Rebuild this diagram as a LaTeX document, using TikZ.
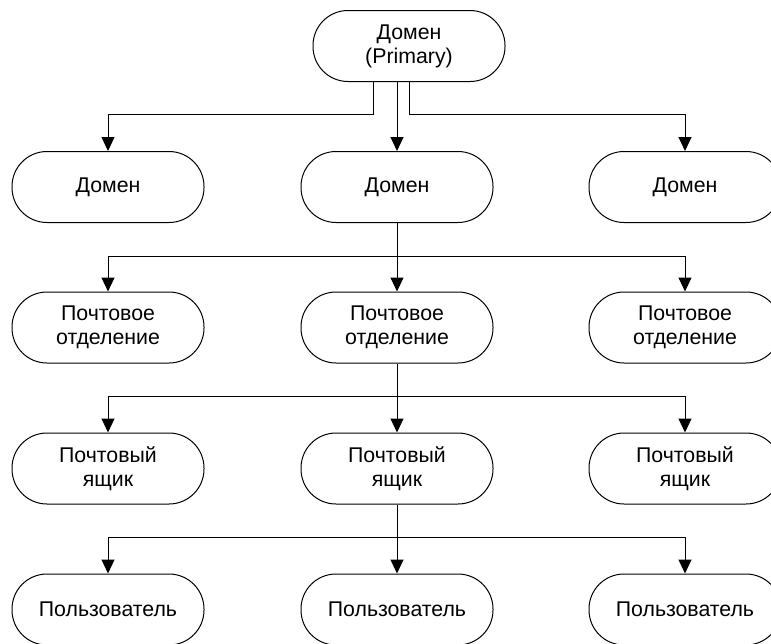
\documentclass[tikz,border=0pt]{standalone}
\usepackage{fontspec}
\setmainfont{Liberation Sans}
\usetikzlibrary{arrows.meta}
\begin{document}
\begin{tikzpicture}[x=1pt,y=-1pt,
  unit/.style={draw=black, line width=1pt, fill=white, rectangle,
    rounded corners=35pt, minimum width=192pt, minimum height=71pt,
    inner sep=0pt, align=center,
    font=\fontsize{21.3pt}{24pt}\selectfont},
  link/.style={line width=1pt, -{Triangle[width=13pt,length=14pt]}}]
\useasboundingbox (0,0) rectangle (771,643);
\clip (0,0) rectangle (771,643);

% root
\node[unit] (root) at (409,46) {Домен\\(Primary)};

% level 1: domains
\node[unit] (dL) at (108,187) {Домен};
\node[unit] (dM) at (397,187) {Домен};
\node[unit] (dR) at (685,187) {Домен};

% level 2: post offices
\node[unit] (pL) at (108,327.5) {Почтовое\\отделение};
\node[unit] (pM) at (397,327.5) {Почтовое\\отделение};
\node[unit] (pR) at (685,327.5) {Почтовое\\отделение};

% level 3: mailboxes
\node[unit] (mL) at (108,468.5) {Почтовый\\ящик};
\node[unit] (mM) at (397,468.5) {Почтовый\\ящик};
\node[unit] (mR) at (685,468.5) {Почтовый\\ящик};

% level 4: users
\node[unit] (uL) at (108,609.5) {Пользователь};
\node[unit] (uM) at (397,609.5) {Пользователь};
\node[unit] (uR) at (685,609.5) {Пользователь};

% root to domains: three separate exits
\draw[link] ([xshift=-36pt]root.south) -- ++(0,32) -| (dL.north);
\draw[link] ([xshift=-12pt]root.south) -- (dM.north);
\draw[link] (root.south) -- ++(0,32) -| (dR.north);

% domain to post offices
\draw[link] (dM.south) -- (pM.north);
\draw[link] (dM.south) ++(0,33) -| (pL.north);
\draw[link] (dM.south) ++(0,33) -| (pR.north);

% post office to mailboxes
\draw[link] (pM.south) -- (mM.north);
\draw[link] (pM.south) ++(0,33) -| (mL.north);
\draw[link] (pM.south) ++(0,33) -| (mR.north);

% mailbox to users
\draw[link] (mM.south) -- (uM.north);
\draw[link] (mM.south) ++(0,33) -| (uL.north);
\draw[link] (mM.south) ++(0,33) -| (uR.north);
\end{tikzpicture}
\end{document}
